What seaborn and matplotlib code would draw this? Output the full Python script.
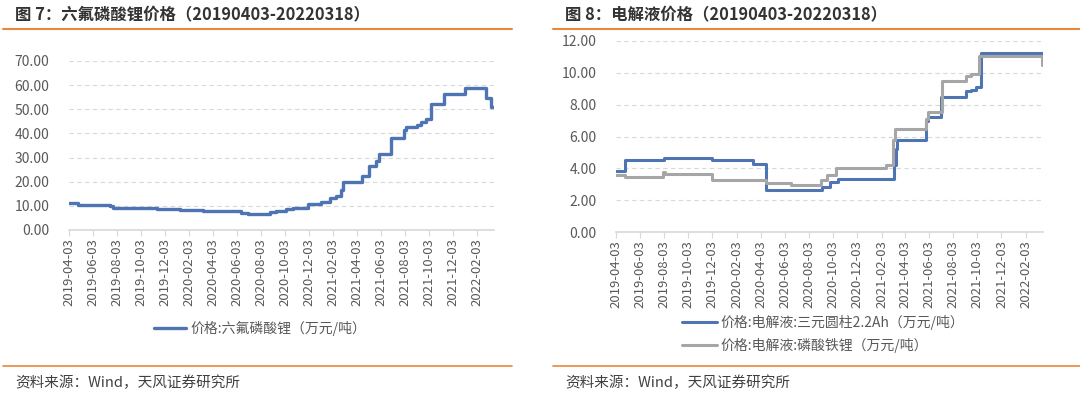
import pandas as pd
import numpy as np
import matplotlib
matplotlib.use("Agg")
import matplotlib.pyplot as plt
import seaborn as sns

# data (step series, value holds until next date)
lipf6_dates = ["2019-04-03", "2019-04-26", "2019-07-17", "2019-07-25", "2019-11-12",
               "2020-01-10", "2020-03-09", "2020-06-14", "2020-07-01", "2020-08-25",
               "2020-09-11", "2020-10-06", "2020-10-23", "2020-11-30", "2021-01-03",
               "2021-01-24", "2021-02-10", "2021-02-22", "2021-02-28", "2021-04-16",
               "2021-05-05", "2021-05-22", "2021-05-30", "2021-06-30", "2021-08-01",
               "2021-08-07", "2021-09-04", "2021-09-13", "2021-09-25", "2021-10-10",
               "2021-11-12", "2022-01-03", "2022-02-26", "2022-03-11", "2022-03-18"]
lipf6_price = [11.0, 10.4, 9.8, 9.2, 8.8,
               8.4, 7.9, 7.2, 6.8, 7.4,
               7.9, 8.6, 9.2, 10.8, 11.4,
               13.4, 14.2, 16.5, 19.9, 22.5,
               26.4, 28.5, 31.5, 38.3, 41.5,
               42.5, 43.5, 44.6, 46.1, 52.2,
               56.2, 58.7, 54.6, 51.1, 51.1]

ncm_dates = ["2019-04-03", "2019-04-26", "2019-08-03", "2019-12-01", "2020-03-15",
             "2020-04-16", "2020-09-04", "2020-09-25", "2020-10-15", "2021-03-06",
             "2021-03-11", "2021-03-14", "2021-05-26", "2021-05-30", "2021-07-03",
             "2021-09-04", "2021-09-18", "2021-09-29", "2021-10-11", "2022-03-18"]
ncm_price = [3.86, 4.51, 4.68, 4.55, 4.30,
             2.64, 2.81, 3.15, 3.36, 4.2,
             5.2, 5.81, 7.0, 7.2, 8.5,
             8.85, 8.95, 9.12, 11.26, 11.26]

lfp_dates = ["2019-04-03", "2019-04-26", "2019-08-01", "2019-08-05", "2019-12-01",
             "2020-04-16", "2020-06-18", "2020-09-02", "2020-09-18", "2020-10-10",
             "2021-02-15", "2021-03-04", "2021-03-08", "2021-05-26", "2021-05-30",
             "2021-07-05", "2021-09-04", "2021-09-18", "2021-10-08", "2022-03-15",
             "2022-03-18"]
lfp_price = [3.57, 3.48, 3.8, 3.63, 3.29,
             3.06, 2.98, 3.25, 3.59, 3.99,
             4.24, 5.8, 6.46, 7.1, 7.51,
             9.48, 9.8, 9.9, 11.06, 10.5,
             10.5]

tick_labels = ["2019-04-03", "2019-06-03", "2019-08-03", "2019-10-03", "2019-12-03",
               "2020-02-03", "2020-04-03", "2020-06-03", "2020-08-03", "2020-10-03",
               "2020-12-03", "2021-02-03", "2021-04-03", "2021-06-03", "2021-08-03",
               "2021-10-03", "2021-12-03", "2022-02-03"]

BLUE = "#4E74B3"
GRAY = "#A6A6A6"
ORANGE = "#E9873A"
TXT = "#595959"

sns.set_theme(style="white")
plt.rcParams['font.family'] = ['Noto Sans CJK SC', 'DejaVu Sans']

W, H = 1080, 398
fig = plt.figure(figsize=(W / 100, H / 100), dpi=100)


def px_axes(x0, y0, x1, y1):
    # pixel box (top-left origin) -> figure axes
    return fig.add_axes([x0 / W, 1 - y1 / H, (x1 - x0) / W, (y1 - y0) / H])


def style_axes(ax, ymax, step):
    ax.set_ylim(0, ymax)
    ax.set_yticks(np.arange(0, ymax + 0.01, step))
    ax.yaxis.set_major_formatter(matplotlib.ticker.FormatStrFormatter("%.2f"))
    ticks = pd.to_datetime(tick_labels)
    ax.set_xticks(ticks)
    ax.set_xticklabels(tick_labels, rotation=90)
    ax.set_xlim(pd.Timestamp("2019-04-03"), pd.Timestamp("2022-03-18"))
    ax.grid(axis="y", color="#D9D9D9", linestyle=(0, (4, 3)), linewidth=0.8)
    for s in ["top", "right", "left"]:
        ax.spines[s].set_visible(False)
    ax.spines["bottom"].set_color("#D9D9D9")
    ax.tick_params(axis="x", colors=TXT, labelsize=9.5, length=4, width=0.8,
                   color="#D9D9D9", pad=2, bottom=True)
    ax.tick_params(axis="y", colors=TXT, labelsize=10, length=0, pad=14)
    ax.set_xlabel("")
    ax.set_ylabel("")


# ---- left panel
fig.text(15 / W, 1 - 15 / H, "图 7：六氟磷酸锂价格（20190403-20220318）",
         fontsize=11.8, fontweight="bold", color="#333333", va="center")
fig.add_artist(plt.Line2D([3 / W, 512 / W], [1 - 29 / H] * 2, color=ORANGE, lw=1.5))
fig.add_artist(plt.Line2D([3 / W, 512 / W], [1 - 366 / H] * 2, color=ORANGE, lw=1.2))
fig.text(15 / W, 1 - 383 / H, "资料来源：Wind，天风证券研究所", fontsize=10.5,
         color="#404040", va="center")

ax1 = px_axes(69, 61, 494, 230)
df1 = pd.DataFrame({"date": pd.to_datetime(lipf6_dates), "price": lipf6_price})
sns.lineplot(data=df1, x="date", y="price", ax=ax1, color=BLUE, linewidth=2.4,
             drawstyle="steps-post", label="价格:六氟磷酸锂（万元/吨）")
style_axes(ax1, 70, 10)
ax1.legend(loc="center", bbox_to_anchor=(0.45, -0.58), frameon=False, fontsize=10,
           labelcolor=TXT, handlelength=2.3, handletextpad=0.3)

# ---- right panel
fig.text(565 / W, 1 - 15 / H, "图 8：电解液价格（20190403-20220318）",
         fontsize=11.8, fontweight="bold", color="#333333", va="center")
fig.add_artist(plt.Line2D([553 / W, 1080 / W], [1 - 29 / H] * 2, color=ORANGE, lw=1.5))
fig.add_artist(plt.Line2D([553 / W, 1080 / W], [1 - 366 / H] * 2, color=ORANGE, lw=1.2))
fig.text(565 / W, 1 - 383 / H, "资料来源：Wind，天风证券研究所", fontsize=10.5,
         color="#404040", va="center")

ax2 = px_axes(616, 41, 1043, 232)
df_ncm = pd.DataFrame({"date": pd.to_datetime(ncm_dates), "price": ncm_price})
df_lfp = pd.DataFrame({"date": pd.to_datetime(lfp_dates), "price": lfp_price})
sns.lineplot(data=df_ncm, x="date", y="price", ax=ax2, color=BLUE, linewidth=2.2,
             drawstyle="steps-post", label="价格:电解液:三元圆柱2.2Ah（万元/吨）")
sns.lineplot(data=df_lfp, x="date", y="price", ax=ax2, color=GRAY, linewidth=2.2,
             drawstyle="steps-post", label="价格:电解液:磷酸铁锂（万元/吨）")
style_axes(ax2, 12, 2)
ax2.legend(loc="upper left", bbox_to_anchor=(0.125, -0.37), frameon=False, fontsize=10,
           labelcolor=TXT, handlelength=2.5, handletextpad=0.3, labelspacing=0.55)

fig.savefig("out.png", dpi=100)
